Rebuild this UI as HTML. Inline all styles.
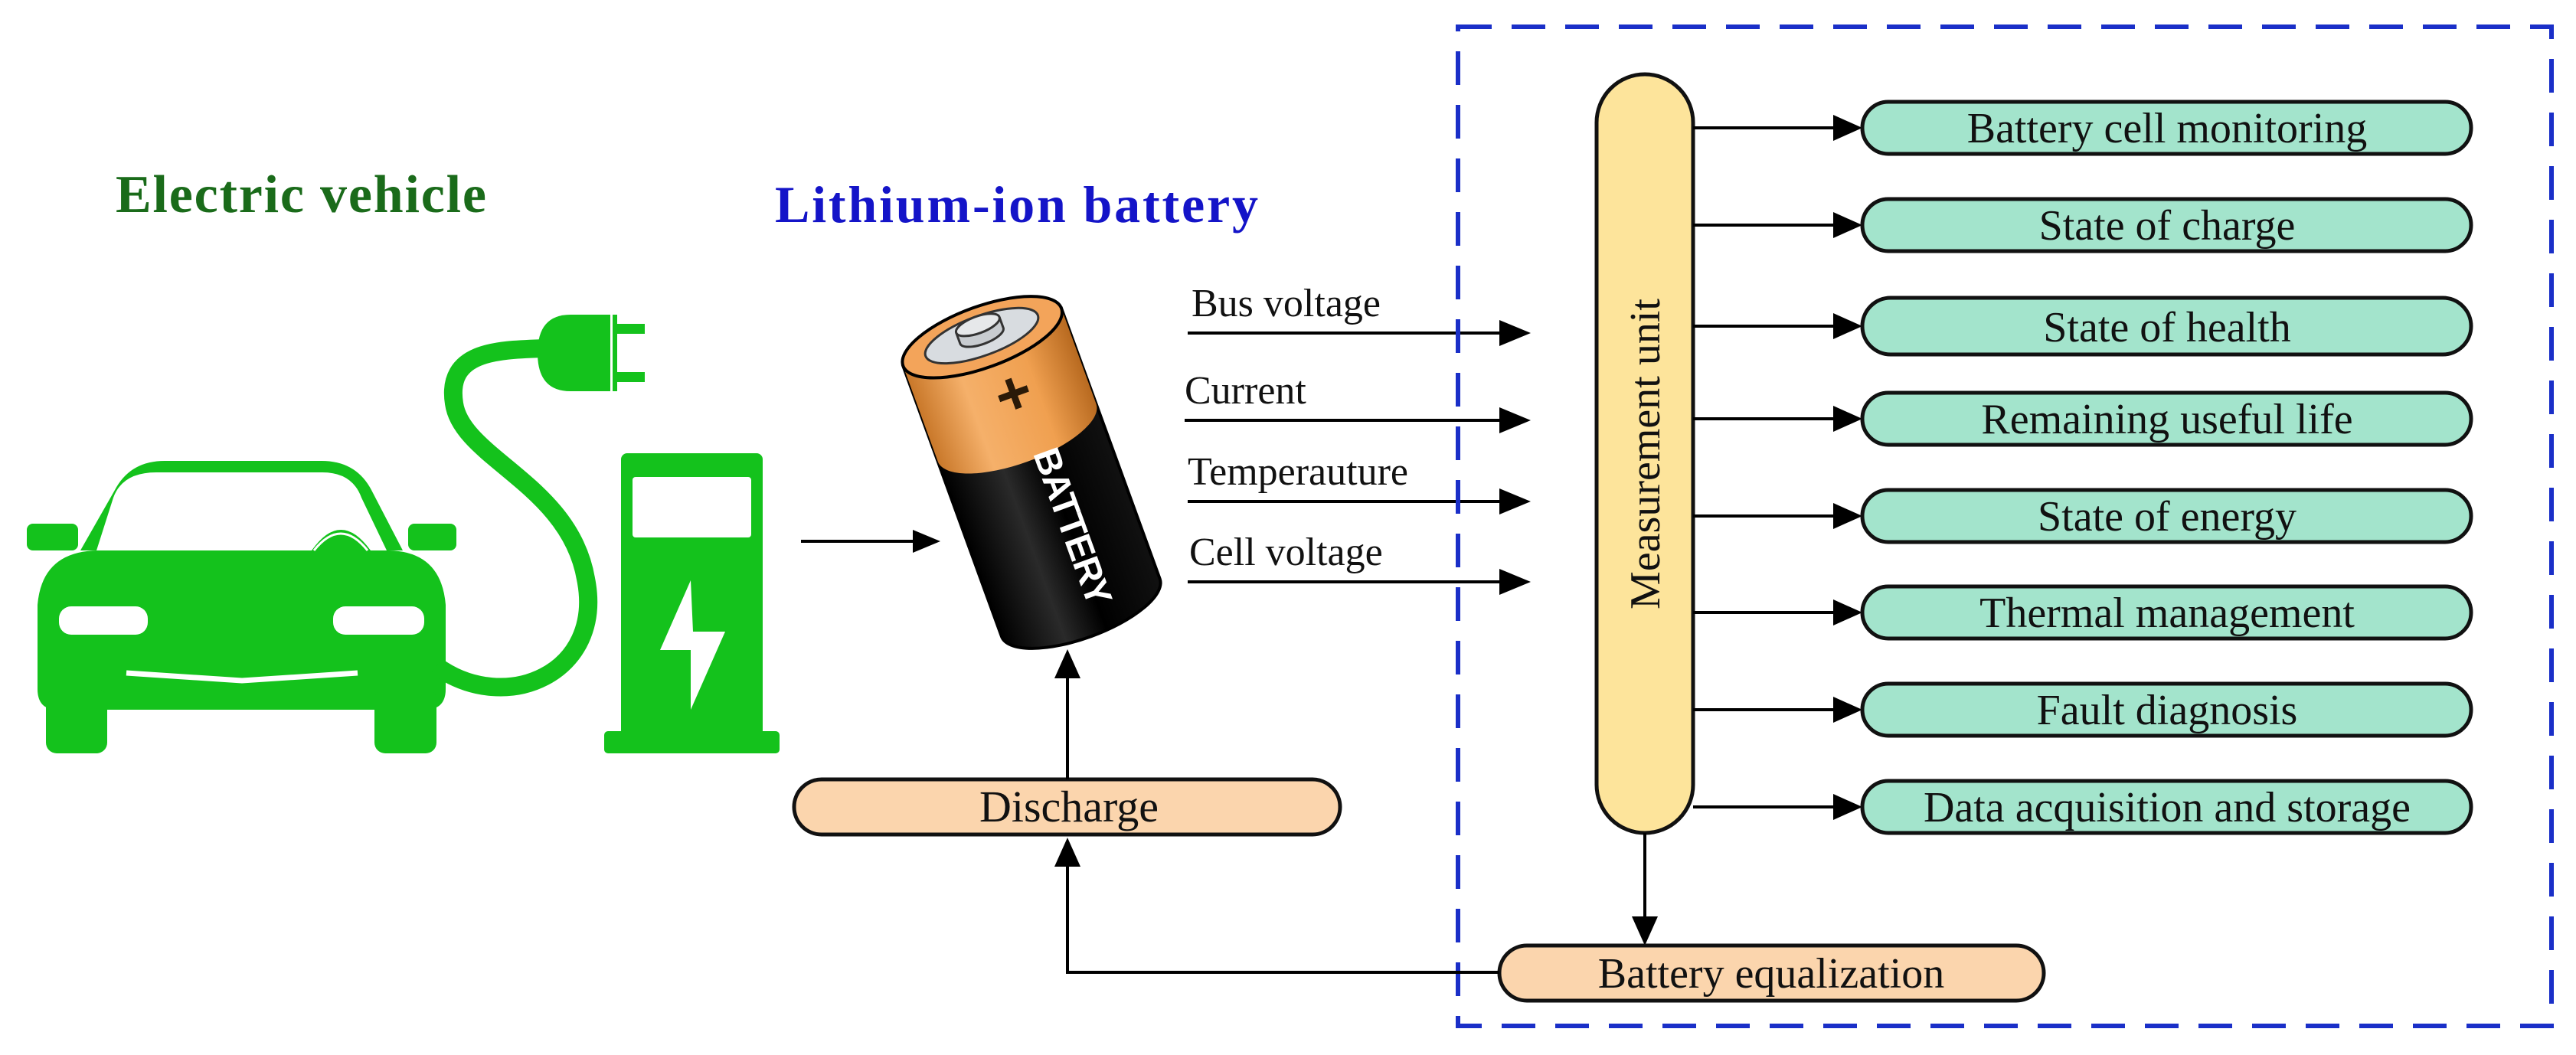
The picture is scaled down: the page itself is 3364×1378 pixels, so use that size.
<!DOCTYPE html>
<html><head><meta charset="utf-8"><style>html,body{margin:0;padding:0;background:#fff}svg{display:block}</style></head>
<body>
<svg width="3364" height="1378" viewBox="0 0 3364 1378" xmlns="http://www.w3.org/2000/svg">
<defs>
<linearGradient id="og" x1="0" x2="1" y1="0" y2="0">
<stop offset="0" stop-color="#c9782a"/><stop offset="0.3" stop-color="#f5b06a"/><stop offset="0.7" stop-color="#f0a050"/><stop offset="1" stop-color="#b86a20"/></linearGradient>
<linearGradient id="bg" x1="0" x2="1" y1="0" y2="0">
<stop offset="0" stop-color="#000"/><stop offset="0.35" stop-color="#2a2a2a"/><stop offset="0.6" stop-color="#000"/><stop offset="1" stop-color="#111"/></linearGradient>
</defs>
<g font-family="'Liberation Serif', serif">
<text x="151" y="277" font-size="70" font-weight="bold" fill="#1a6b1a" textLength="484">Electric vehicle</text>
<text x="1012" y="290" font-size="68" font-weight="bold" fill="#1414c8" textLength="631">Lithium-ion battery</text>

<!-- car -->
<g fill="#14c21c">
<path d="M105,719 L150,640 Q170,602 215,602 L420,602 Q465,602 485,640 L526,719 Z"/>
<rect x="35" y="684" width="67" height="35" rx="8"/>
<rect x="533" y="684" width="63" height="35" rx="8"/>
<path d="M49,790 Q55,719 130,719 L505,719 Q576,719 582,790 L582,900 Q582,927 555,927 L75,927 Q49,927 49,900 Z"/>
<rect x="60" y="900" width="80" height="84" rx="14"/>
<rect x="489" y="900" width="81" height="84" rx="14"/>
</g>
<path d="M126,719 L148,650 Q160,617 204,617 L421,617 Q460,617 472,650 L505,719 Z" fill="#fff"/>
<path d="M407,719 Q445,665 484,719 Z" fill="#14c21c"/>
<path d="M410,719 Q445,675 480,719" fill="none" stroke="#fff" stroke-width="3"/>
<rect x="77" y="792" width="116" height="37" rx="16" fill="#fff"/>
<rect x="435" y="792" width="119" height="37" rx="16" fill="#fff"/>
<path d="M165,879 L316,889 L467,879" fill="none" stroke="#fff" stroke-width="7"/>
<!-- cable -->
<path d="M570,870 C660,935 790,880 765,756 C744,633 603,598 593,527 C582,457 653,457 712,455" fill="none" stroke="#14c21c" stroke-width="24"/>
<path d="M702,461 Q702,411 745,411 L797,411 L797,511 L745,511 Q702,511 702,461 Z" fill="#14c21c"/>
<rect x="800" y="411" width="6" height="100" fill="#14c21c"/>
<rect x="800" y="423" width="42" height="13" fill="#14c21c"/>
<rect x="800" y="486" width="42" height="13" fill="#14c21c"/>
<!-- charger -->
<rect x="811" y="592" width="185" height="370" rx="8" fill="#14c21c"/>
<rect x="789" y="955" width="229" height="29" rx="5" fill="#14c21c"/>
<rect x="826" y="623" width="155" height="79" rx="4" fill="#fff"/>
<polygon points="902,758 862,849 902,849 902,927 947,825 905,825" fill="#fff"/>

<line x1="1046" y1="707" x2="1200" y2="707" stroke="#000" stroke-width="4"/>
<polygon points="1228,707 1192,692 1192,722" fill="#000"/>

<!-- battery -->
<g transform="translate(1347,617) rotate(-20)">
<path d="M-110,-188 L-110,188 A110,40 0 0 0 110,188 L110,-188 Z" fill="url(#bg)" stroke="#000" stroke-width="4"/>
<path d="M-110,-188 L-110,-55 A110,40 0 0 0 110,-55 L110,-188 Z" fill="url(#og)"/>
<ellipse cx="0" cy="-188" rx="110" ry="40" fill="#f3a45a" stroke="#000" stroke-width="4"/>
<ellipse cx="0" cy="-190" rx="78" ry="26" fill="#d8dce0" stroke="#333" stroke-width="3"/>
<path d="M-30,-205 L-30,-190 A30,11 0 0 0 30,-190 L30,-205" fill="#c8ccd0" stroke="#333" stroke-width="3"/>
<ellipse cx="0" cy="-205" rx="30" ry="11" fill="#e6e8ea" stroke="#333" stroke-width="3"/>
<text x="13" y="-78" font-family="'Liberation Sans',sans-serif" font-size="80" font-weight="bold" fill="#2a1a08" text-anchor="middle">+</text>
<text transform="translate(27,85) rotate(90)" x="0" y="17" font-family="'Liberation Sans',sans-serif" font-size="48" font-weight="bold" fill="#fff" text-anchor="middle" textLength="215">BATTERY</text>
</g>

<g font-size="52" fill="#111">
<text x="1556" y="413">Bus voltage</text>
<text x="1547" y="527">Current</text>
<text x="1551" y="633">Temperauture</text>
<text x="1553" y="738">Cell voltage</text>
</g>
<g stroke="#000" stroke-width="4">
<line x1="1551" y1="435" x2="1965" y2="435"/>
<line x1="1547" y1="549" x2="1965" y2="549"/>
<line x1="1551" y1="655" x2="1965" y2="655"/>
<line x1="1551" y1="760" x2="1965" y2="760"/>
</g>
<g fill="#000">
<polygon points="1999,435 1958,418 1958,452"/>
<polygon points="1999,549 1958,532 1958,566"/>
<polygon points="1999,655 1958,638 1958,672"/>
<polygon points="1999,760 1958,743 1958,777"/>
</g>

<rect x="1904" y="35" width="1428" height="1305" fill="none" stroke="#1a2fc8" stroke-width="6" stroke-dasharray="44,26"/>

<rect x="2085" y="97" width="126" height="991" rx="63" fill="#fde49b" stroke="#111" stroke-width="5"/>
<text transform="translate(2148,593) rotate(-90)" x="0" y="19" font-size="56" text-anchor="middle" fill="#111">Measurement unit</text>

<g stroke="#000" stroke-width="4">
<line x1="2211" y1="167" x2="2400" y2="167"/>
<line x1="2211" y1="294" x2="2400" y2="294"/>
<line x1="2211" y1="426" x2="2400" y2="426"/>
<line x1="2211" y1="547" x2="2400" y2="547"/>
<line x1="2211" y1="674" x2="2400" y2="674"/>
<line x1="2211" y1="800" x2="2400" y2="800"/>
<line x1="2211" y1="927" x2="2400" y2="927"/>
<line x1="2211" y1="1054" x2="2400" y2="1054"/>
</g>
<g fill="#000">
<polygon points="2432,167 2394,150 2394,184"/>
<polygon points="2432,294 2394,277 2394,311"/>
<polygon points="2432,426 2394,409 2394,443"/>
<polygon points="2432,547 2394,530 2394,564"/>
<polygon points="2432,674 2394,657 2394,691"/>
<polygon points="2432,800 2394,783 2394,817"/>
<polygon points="2432,927 2394,910 2394,944"/>
<polygon points="2432,1054 2394,1037 2394,1071"/>
</g>
<g fill="#a3e4cc" stroke="#111" stroke-width="5">
<rect x="2432" y="133" width="795" height="68" rx="34"/>
<rect x="2432" y="260" width="795" height="68" rx="34"/>
<rect x="2432" y="389" width="795" height="74" rx="37"/>
<rect x="2432" y="513" width="795" height="68" rx="34"/>
<rect x="2432" y="640" width="795" height="68" rx="34"/>
<rect x="2432" y="766" width="795" height="68" rx="34"/>
<rect x="2432" y="893" width="795" height="68" rx="34"/>
<rect x="2432" y="1020" width="795" height="68" rx="34"/>
</g>
<g font-size="56" fill="#111" text-anchor="middle">
<text x="2830" y="186">Battery cell monitoring</text>
<text x="2830" y="313">State of charge</text>
<text x="2830" y="446">State of health</text>
<text x="2830" y="566">Remaining useful life</text>
<text x="2830" y="693">State of energy</text>
<text x="2830" y="819">Thermal management</text>
<text x="2830" y="946">Fault diagnosis</text>
<text x="2830" y="1073">Data acquisition and storage</text>
</g>

<line x1="2148" y1="1088" x2="2148" y2="1205" stroke="#000" stroke-width="4"/>
<polygon points="2148,1235 2131,1197 2165,1197" fill="#000"/>
<rect x="1958" y="1235" width="711" height="72" rx="36" fill="#fbd5ad" stroke="#111" stroke-width="5"/>
<text x="2313" y="1290" font-size="56" text-anchor="middle" fill="#111">Battery equalization</text>
<polyline points="1958,1270 1394,1270 1394,1125" fill="none" stroke="#000" stroke-width="4"/>
<polygon points="1394,1094 1377,1132 1411,1132" fill="#000"/>
<rect x="1037" y="1018" width="713" height="72" rx="36" fill="#fbd5ad" stroke="#111" stroke-width="5"/>
<text x="1396" y="1073" font-size="58" text-anchor="middle" fill="#111">Discharge</text>
<line x1="1394" y1="1018" x2="1394" y2="880" stroke="#000" stroke-width="4"/>
<polygon points="1394,848 1377,886 1411,886" fill="#000"/>
</g>
</svg>
</body></html>
